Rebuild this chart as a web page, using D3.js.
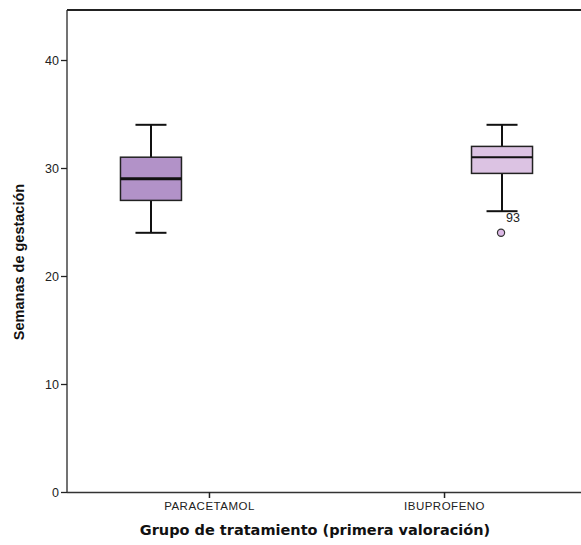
<!DOCTYPE html>
<html>
<head>
<meta charset="utf-8">
<script src="https://cdn.jsdelivr.net/npm/d3@7"></script>
<style>
  html, body { margin: 0; padding: 0; background: #fff; }
  svg { display: block; }
</style>
</head>
<body>
<svg id="chart" width="581" height="545"></svg>
<script>
// Treatment groups and their gestational-age summaries (weeks)
const groups = ["PARACETAMOL", "IBUPROFENO"];
const whiskerLow = [24, 26];
const q1 = [27, 29.5];
const median = [29, 31];
const q3 = [31, 32];
const whiskerHigh = [34, 34];
const boxFill = ["#b292c8", "#dcc3e3"];
const medianWidth = [3, 2];
// Outliers: [group index, value, case label]
const outlierGroup = [1];
const outlierValue = [24];
const outlierLabel = ["93"];
const yTicks = [0, 10, 20, 30, 40];

const svg = d3.select("#chart");
const plotLeft = 67, plotTop = 10, plotBottom = 492, plotRight = 586;

const y = d3.scaleLinear().domain([0, 44.63]).range([plotBottom, plotTop]);
const x = d3.scalePoint().domain(groups).range([plotLeft, plotRight]).padding(0.604);
// Boxes sit offset from the category tick positions
const boxOffset = [-58, 58];
const boxW = 61, capW = 31;
const cx = i => x(groups[i]) + boxOffset[i];

// Frame: left axis and top border
svg.append("line").attr("x1", plotLeft).attr("x2", plotLeft).attr("y1", plotTop).attr("y2", plotBottom)
  .attr("stroke", "#444").attr("stroke-width", 1.5);
svg.append("line").attr("x1", plotLeft).attr("x2", 581).attr("y1", plotTop).attr("y2", plotTop)
  .attr("stroke", "#222").attr("stroke-width", 2);

// Y axis
const yAxis = svg.append("g").attr("transform", `translate(${plotLeft},0)`)
  .call(d3.axisLeft(y).tickValues(yTicks).tickSize(6).tickSizeOuter(0).tickFormat(d3.format("d")));
yAxis.select(".domain").remove();
yAxis.selectAll(".tick line").attr("stroke", "#222").attr("stroke-width", 1.3);
yAxis.selectAll(".tick text").attr("x", -8).attr("font-family", "Liberation Sans, Arial, sans-serif")
  .attr("font-size", 12.5).attr("fill", "#222");

// X axis
const xAxis = svg.append("g").attr("transform", `translate(0,${plotBottom})`)
  .call(d3.axisBottom(x).tickSize(6).tickSizeOuter(0));
xAxis.select(".domain").attr("d", `M${plotLeft},0.5H581`).attr("stroke", "#333").attr("stroke-width", 1.5);
xAxis.selectAll(".tick line").attr("stroke", "#222").attr("stroke-width", 1.5);
xAxis.selectAll(".tick text").attr("y", 10).attr("font-family", "Liberation Sans, Arial, sans-serif")
  .attr("font-size", 11.5).attr("letter-spacing", 0.5).attr("fill", "#222");

// Boxes
const boxes = svg.append("g").selectAll("g").data(groups).join("g");
boxes.append("line")
  .attr("x1", (d, i) => cx(i)).attr("x2", (d, i) => cx(i))
  .attr("y1", (d, i) => y(whiskerHigh[i])).attr("y2", (d, i) => y(q3[i]))
  .attr("stroke", "#111").attr("stroke-width", 2);
boxes.append("line")
  .attr("x1", (d, i) => cx(i)).attr("x2", (d, i) => cx(i))
  .attr("y1", (d, i) => y(q1[i])).attr("y2", (d, i) => y(whiskerLow[i]))
  .attr("stroke", "#111").attr("stroke-width", 2);
boxes.append("line")
  .attr("x1", (d, i) => cx(i) - capW / 2).attr("x2", (d, i) => cx(i) + capW / 2)
  .attr("y1", (d, i) => y(whiskerHigh[i])).attr("y2", (d, i) => y(whiskerHigh[i]))
  .attr("stroke", "#111").attr("stroke-width", 2);
boxes.append("line")
  .attr("x1", (d, i) => cx(i) - capW / 2).attr("x2", (d, i) => cx(i) + capW / 2)
  .attr("y1", (d, i) => y(whiskerLow[i])).attr("y2", (d, i) => y(whiskerLow[i]))
  .attr("stroke", "#111").attr("stroke-width", 2);
boxes.append("rect")
  .attr("x", (d, i) => cx(i) - boxW / 2).attr("width", boxW)
  .attr("y", (d, i) => y(q3[i])).attr("height", (d, i) => y(q1[i]) - y(q3[i]))
  .attr("fill", (d, i) => boxFill[i]).attr("stroke", "#222").attr("stroke-width", 1.5);
boxes.append("line")
  .attr("x1", (d, i) => cx(i) - boxW / 2).attr("x2", (d, i) => cx(i) + boxW / 2)
  .attr("y1", (d, i) => y(median[i])).attr("y2", (d, i) => y(median[i]))
  .attr("stroke", "#111").attr("stroke-width", (d, i) => medianWidth[i]);

// Outliers
outlierValue.forEach((v, k) => {
  const gi = outlierGroup[k];
  svg.append("circle").attr("cx", cx(gi) - 1).attr("cy", y(v)).attr("r", 3.6)
    .attr("fill", "#dcb9e6").attr("stroke", "#333").attr("stroke-width", 1.2);
  svg.append("text").attr("x", cx(gi) + 4).attr("y", y(v) - 11)
    .attr("font-family", "Liberation Sans, Arial, sans-serif").attr("font-size", 12.5)
    .attr("fill", "#222").text(outlierLabel[k]);
});

// Axis titles
svg.append("text").attr("x", 315).attr("y", 535).attr("text-anchor", "middle")
  .attr("font-family", "DejaVu Sans, Verdana, sans-serif").attr("font-weight", "bold")
  .attr("font-size", 14.5).attr("fill", "#111")
  .text("Grupo de tratamiento (primera valoración)");
svg.append("text").attr("transform", "translate(24,262) rotate(-90)").attr("text-anchor", "middle")
  .attr("font-family", "Liberation Sans, Arial, sans-serif").attr("font-weight", "bold")
  .attr("font-size", 14.5).attr("fill", "#111")
  .text("Semanas de gestación");
</script>
</body>
</html>
